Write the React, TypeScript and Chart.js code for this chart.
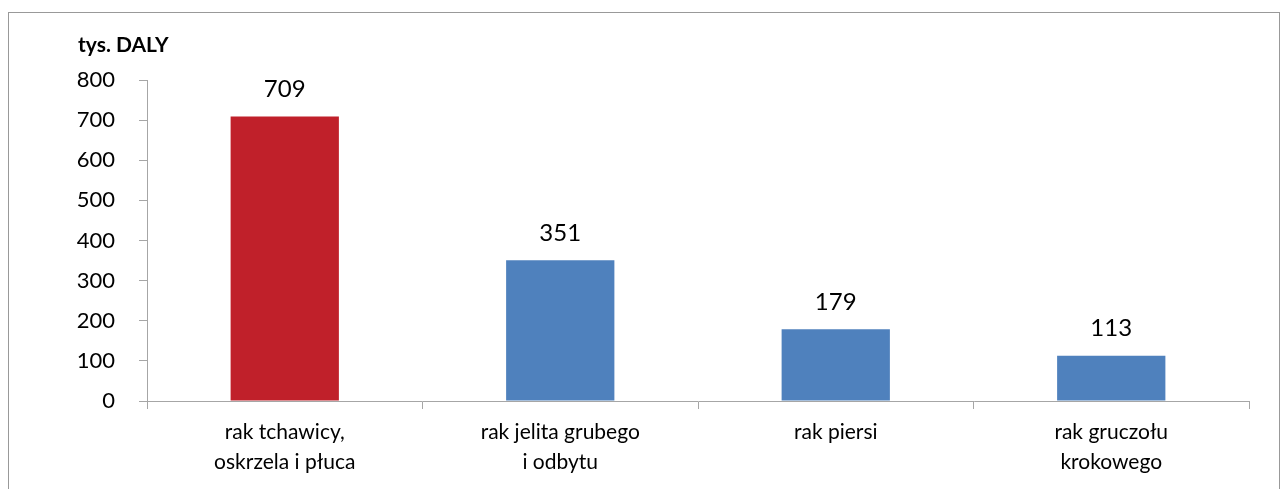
import React, { useEffect, useRef } from "react";
import { Chart, registerables } from "chart.js";

Chart.register(...registerables);

const categories: (string | string[])[] = [
  ["rak tchawicy,", "oskrzela i płuca"],
  ["rak jelita grubego", "i odbytu"],
  "rak piersi",
  ["rak gruczołu", "krokowego"],
];
const values: number[] = [709, 351, 179, 113];
const barColors: string[] = ["#C0202A", "#4F81BD", "#4F81BD", "#4F81BD"];
const yTitle = "tys. DALY";
const FONT = "Lato, 'Open Sans', sans-serif";

export default function App() {
  const ref = useRef<HTMLCanvasElement | null>(null);
  useEffect(() => {
    if (!ref.current) return;
    const labelPlugin = {
      id: "valLabels",
      afterDatasetsDraw(chart: any) {
        const ctx = chart.ctx;
        const meta = chart.getDatasetMeta(0);
        ctx.save();
        ctx.fillStyle = "#000";
        ctx.font = `24px ${FONT}`;
        ctx.textAlign = "center";
        ctx.textBaseline = "middle";
        meta.data.forEach((el: any, i: number) => {
          ctx.fillText(String(values[i]), el.x, el.y - 27);
        });
        ctx.font = `bold 21px ${FONT}`;
        ctx.textAlign = "left";
        ctx.fillText(yTitle, 69, 32);
        ctx.restore();
      },
    };
    const chart = new Chart(ref.current, {
      type: "bar",
      data: {
        labels: categories,
        datasets: [
          {
            data: values,
            backgroundColor: barColors,
            categoryPercentage: 1,
            barPercentage: 0.393,
          },
        ],
      },
      options: {
        animation: false,
        responsive: false,
        maintainAspectRatio: false,
        layout: { padding: { top: 67, right: 30, left: 0, bottom: 0 } },
        plugins: { legend: { display: false }, tooltip: { enabled: false }, title: { display: false } },
        scales: {
          x: {
            grid: { display: true, drawOnChartArea: false, drawTicks: true, tickLength: 8, color: "#a6a6a6", offset: true },
            border: { display: true, color: "#a6a6a6", width: 1 },
            ticks: { color: "#000", font: { family: FONT, size: 21, lineHeight: 30 / 21 }, padding: 8, maxRotation: 0, autoSkip: false },
            afterFit: (s: any) => { s.height = 88; },
          },
          y: {
            min: 0,
            max: 800,
            ticks: { stepSize: 100, color: "#000", font: { family: FONT, size: 22 }, padding: 24 },
            grid: { display: true, drawOnChartArea: false, drawTicks: true, tickLength: 8, color: "#a6a6a6" },
            border: { display: true, color: "#a6a6a6", width: 1 },
            afterFit: (s: any) => { s.width = 138; },
          },
        },
      },
      plugins: [labelPlugin],
    });
    return () => chart.destroy();
  }, []);
  return (
    <div
      style={{
        position: "fixed",
        left: 8,
        top: 12,
        width: 1272,
        height: 500,
        border: "1px solid #999",
        boxSizing: "border-box",
        background: "#fff",
      }}
    >
      <canvas ref={ref} width={1270} height={476} style={{ display: "block" }} />
    </div>
  );
}
